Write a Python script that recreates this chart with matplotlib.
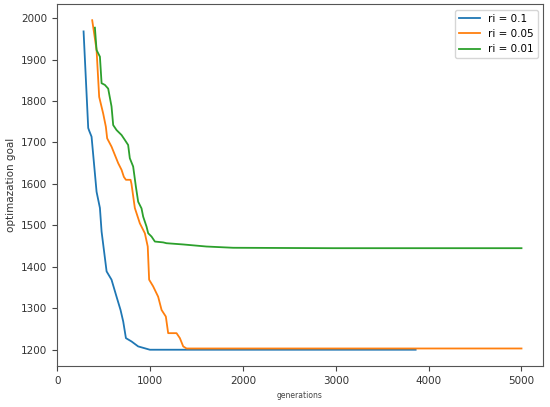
import matplotlib.pyplot as plt

# values (generation, goal)
gen_01 = [284, 334, 345, 370, 424, 460, 478, 532, 585, 639, 682, 711, 740, 800, 872, 998, 1200, 3860]
goal_01 = [1968, 1735, 1728, 1714, 1581, 1542, 1485, 1389, 1369, 1328, 1296, 1268, 1228, 1220, 1208, 1200, 1200, 1200]

gen_005 = [377, 424, 452, 495, 524, 538, 585, 621, 657, 693, 718, 740, 790, 800, 836, 890, 944, 975, 990,
           1033, 1087, 1124, 1170, 1195, 1285, 1321, 1357, 1393, 5000]
goal_005 = [1995, 1923, 1810, 1770, 1738, 1710, 1690, 1670, 1650, 1634, 1617, 1610, 1610, 1600, 1542, 1505,
            1481, 1449, 1369, 1353, 1328, 1296, 1280, 1240, 1240, 1228, 1208, 1203, 1203]

gen_001 = [406, 424, 460, 478, 513, 549, 585, 603, 639, 693, 729, 764, 782, 818, 847, 872, 908, 926, 962,
           980, 1016, 1052, 1141, 1177, 1357, 1608, 1895, 2960, 5000]
goal_001 = [1977, 1923, 1907, 1843, 1839, 1830, 1787, 1742, 1730, 1718, 1706, 1694, 1662, 1642, 1594, 1557,
            1541, 1521, 1497, 1481, 1473, 1461, 1459, 1457, 1454, 1449, 1446, 1445, 1445]

fig = plt.figure(figsize=(5.5, 4.07), dpi=100)
ax = fig.add_axes([0.104, 0.101, 0.883, 0.888])

ax.plot(gen_01, goal_01, label='ri = 0.1', lw=1.3)
ax.plot(gen_005, goal_005, label='ri = 0.05', lw=1.3)
ax.plot(gen_001, goal_001, label='ri = 0.01', lw=1.3)

ax.set_xlim(0, 5230)
ax.set_ylim(1161, 2033)
ax.set_xticks([0, 1000, 2000, 3000, 4000, 5000])
ax.set_yticks([1200, 1300, 1400, 1500, 1600, 1700, 1800, 1900, 2000])
ax.tick_params(labelsize=7.5, color='#444444', labelcolor='#333333')
for s in ax.spines.values():
    s.set_color('#555555')

ax.set_xlabel('generations', fontsize=5.5, color='#444444')
ax.set_ylabel('optimazation goal', fontsize=7.5, color='#333333')
ax.legend(loc='upper right', fontsize=7.5)

fig.savefig('out.png', dpi=100)
